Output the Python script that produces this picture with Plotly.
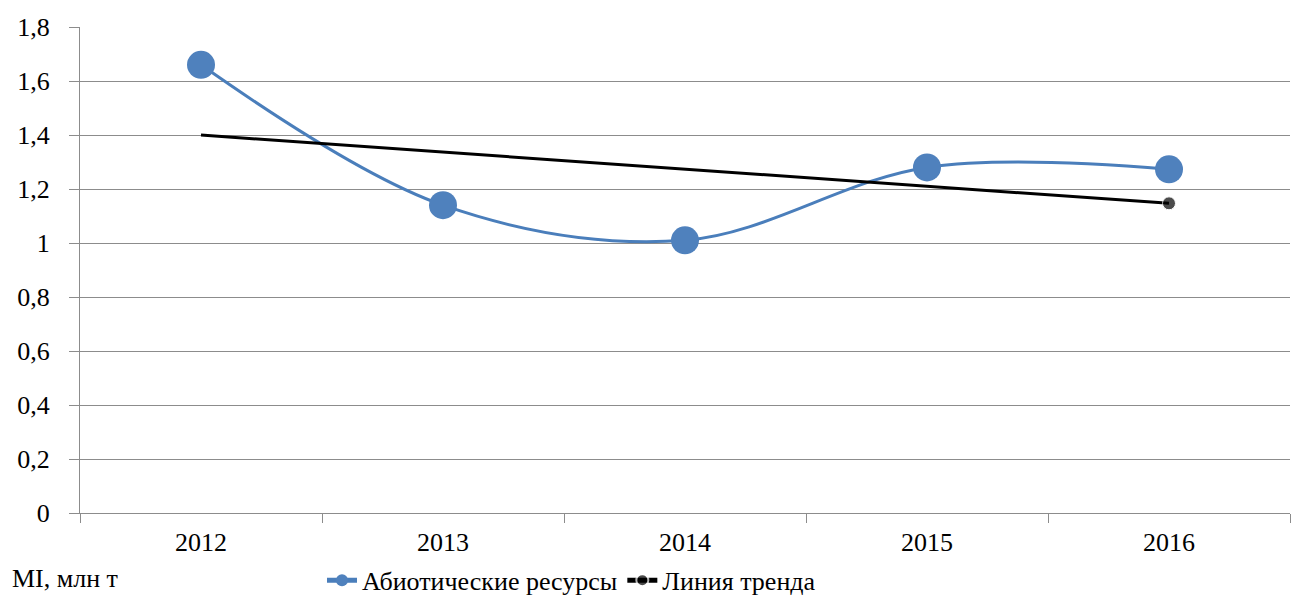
import plotly.graph_objects as go

years = ["2012", "2013", "2014", "2015", "2016"]
abiotic = [1.66, 1.14, 1.01, 1.28, 1.273]
trend_years = ["2012", "2016"]
trend_vals = [1.40, 1.147]
y_ticks = [0, 0.2, 0.4, 0.6, 0.8, 1.0, 1.2, 1.4, 1.6, 1.8]
y_labels = ["0", "0,2", "0,4", "0,6", "0,8", "1", "1,2", "1,4", "1,6", "1,8"]

FONT = "Liberation Serif"
GRID = "#8c8c8c"
FS = 26

fig = go.Figure()
fig.add_trace(go.Scatter(
    x=years, y=abiotic, name="Абиотические ресурсы",
    mode="lines+markers",
    line=dict(color="#4a7ebb", width=3, shape="spline", smoothing=1.0),
    marker=dict(color="#4f81bd", size=28),
))
fig.add_trace(go.Scatter(
    x=trend_years, y=trend_vals, name="Линия тренда",
    mode="lines+markers",
    line=dict(color="black", width=3),
    marker=dict(color="black", size=[0, 13]),
))

fig.update_layout(
    width=1293, height=598,
    margin=dict(l=80, r=3, t=27, b=85, autoexpand=False),
    paper_bgcolor="white", plot_bgcolor="white",
    font=dict(family=FONT, size=FS, color="black"),
    showlegend=True,
    legend=dict(orientation="h", x=0.2, xanchor="left", y=-0.09, yanchor="top",
                font=dict(size=FS), itemsizing="constant", tracegroupgap=0,
                bgcolor="rgba(0,0,0,0)"),
    annotations=[dict(text="MI, млн т", xref="paper", yref="paper",
                      x=-0.058, y=-0.1, xanchor="left", yanchor="top",
                      showarrow=False, font=dict(size=FS))],
)
fig.update_xaxes(
    type="category", categoryorder="array", categoryarray=years,
    range=[-0.5, 4.5], showgrid=False,
    showline=True, linecolor=GRID, linewidth=1,
    ticks="outside", tickson="boundaries", ticklen=9, tickcolor=GRID,
    tickfont=dict(size=FS), ticklabelstandoff=6,
)
fig.update_yaxes(
    range=[0, 1.8], tickvals=y_ticks, ticktext=y_labels,
    showgrid=True, gridcolor=GRID, gridwidth=1,
    showline=True, linecolor=GRID, linewidth=1,
    ticks="outside", ticklen=10, tickcolor=GRID,
    tickfont=dict(size=FS), zeroline=False, ticklabelstandoff=14,
)

fig.write_html("out.html")
